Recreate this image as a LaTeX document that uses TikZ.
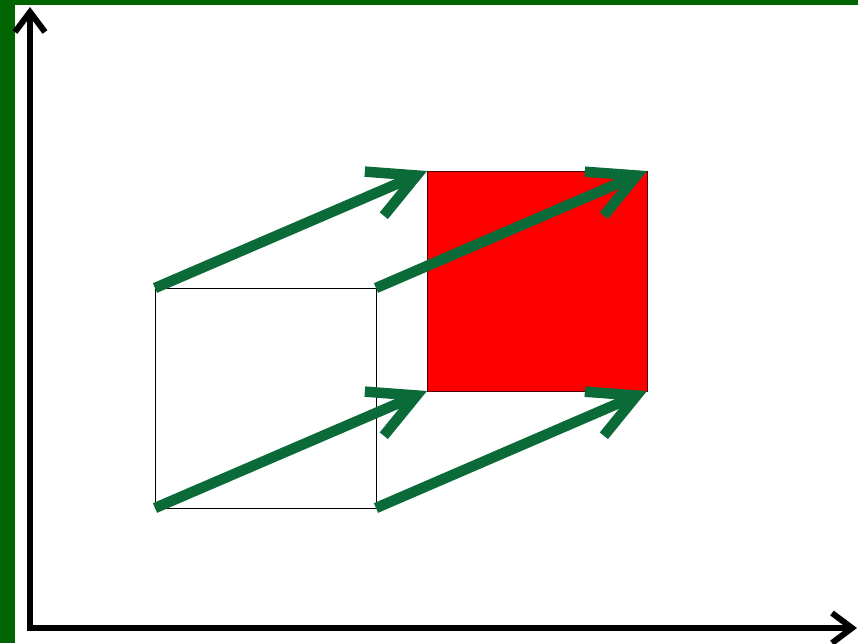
\documentclass[tikz,border=0pt]{standalone}
\usetikzlibrary{arrows.meta}
\definecolor{frame}{RGB}{0,100,0}
\definecolor{arr}{RGB}{10,106,56}
\tikzset{
  movearrow/.style={draw=arr, line width=10.5pt, -{Straight Barb[length=46pt,width=48pt]}},
  axisarrow/.style={draw=black, line width=6pt, -{Straight Barb[length=20pt,width=30pt]}},
}
\begin{document}
\begin{tikzpicture}[x=1pt,y=-1pt]
\useasboundingbox (0,0) rectangle (858,643);
\fill[white] (0,0) rectangle (858,643);
\fill[frame] (0,0) rectangle (15,643);
\fill[frame] (0,0) rectangle (858,5);
% axes
\coordinate (Oy) at (30,631);
\coordinate (Ox) at (27,628);
\coordinate (Y) at (30,7);
\coordinate (X) at (857,628);
\draw[axisarrow] (Oy) -- (Y);
\draw[axisarrow] (Ox) -- (X);
% squares
\coordinate (a1) at (155,288);
\coordinate (a2) at (376,288);
\coordinate (a3) at (376,508);
\coordinate (a4) at (155,508);
\coordinate (b1) at (427,171);
\coordinate (b2) at (647,171);
\coordinate (b3) at (647,391);
\coordinate (b4) at (427,391);
\draw[black, line width=0.8pt] (a1) rectangle (a3);
\filldraw[fill=red, draw=black!70!red, line width=0.8pt] (b1) rectangle (b3);
% shift arrows
\draw[movearrow] (a1) -- (b1);
\draw[movearrow] (a2) -- (b2);
\draw[movearrow] (a4) -- (b4);
\draw[movearrow] (a3) -- (b3);
\end{tikzpicture}
\end{document}
